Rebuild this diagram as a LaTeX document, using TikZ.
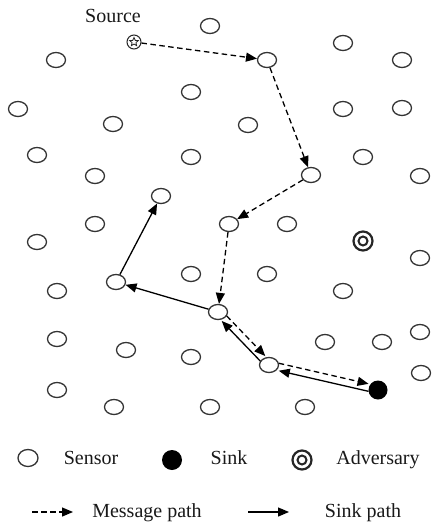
\documentclass[tikz,border=0pt]{standalone}
\usepackage{fontspec}
\setmainfont{Liberation Serif}
\usetikzlibrary{arrows.meta,shapes.geometric}
\begin{document}
\begin{tikzpicture}[x=1pt,y=-1pt,
  sensor/.style={ellipse,draw=black!80,line width=1.3pt,minimum width=19pt,minimum height=15pt,inner sep=0pt,fill=white},
  sinknode/.style={circle,fill=black,minimum size=19pt,inner sep=0pt},
  advout/.style={circle,draw=black!85,line width=2.2pt,minimum size=19pt,inner sep=0pt},
  advin/.style={circle,draw=black!85,line width=2pt,minimum size=9pt,inner sep=0pt},
  msg/.style={dash pattern=on 5.5pt off 3.5pt,line width=1.3pt,-{Triangle[length=11pt,width=9pt]}},
  snk/.style={line width=1.3pt,-{Triangle[length=11pt,width=9pt]}},
  lbl/.style={font=\fontsize{20}{24}\selectfont,text=black!90,inner sep=0pt}]
\useasboundingbox[fill=white] (0,0) rectangle (431,522);
% sensors
\foreach \p [count=\i] in {(210,26),(343,43),(56,60),(402,60),(191,92),(18,109),(113,124),(343,109),(402,108),(248,125),(37,155),(191,157),(363,157),(95,176),(420,176),(95,224),(287,224),(37,242),(420,258),(191,274),(267,274),(57,291),(343,291),(420,332),(57,339),(126,350),(191,357),(325,342),(382,342),(421,373),(57,390),(114,407),(210,407),(305,407)}
  \node[sensor] (s\i) at \p {};
% path nodes
\node[sensor] (A) at (267,60) {};
\node[sensor] (B) at (311,175) {};
\node[sensor] (C) at (229,224) {};
\node[sensor] (D) at (218,312) {};
\node[sensor] (E) at (269,365) {};
\node[sensor] (F) at (116,282) {};
\node[sensor] (G) at (161,196) {};
% source
\node[circle,draw=black!85,line width=1pt,minimum size=14pt,inner sep=0pt] (src) at (134,42) {};
\node[star,star points=5,star point ratio=2.2,draw=black!85,line width=0.8pt,minimum size=9pt,inner sep=0pt] (srcstar) at (src) {};
\node[lbl,anchor=base] (srclbl) at (113,23) {Source};
% sink and adversary
\node[sinknode] (sink) at (378,390) {};
\node[advout] (adv) at (363,241) {};
\node[advin] (advi) at (adv) {};
% message path
\draw[msg] (src) -- (A);
\draw[msg] (A) -- (B);
\draw[msg] (B) -- (C);
\draw[msg] (C) -- (D);
\draw[msg,transform canvas={xshift=2.5pt,yshift=2.5pt}] (D) -- (E);
\draw[msg,transform canvas={yshift=4pt}] (E) -- (sink);
% sink path
\draw[snk,transform canvas={yshift=-3.5pt}] (sink) -- (E);
\draw[snk,transform canvas={xshift=-2.5pt,yshift=-2.5pt}] (E) -- (D);
\draw[snk] (D) -- (F);
\draw[snk] (F) -- (G);
% legend
\node[sensor,minimum width=20pt,minimum height=17pt] (lsen) at (28,458) {};
\node[lbl,anchor=base] (tsen) at (91,464) {Sensor};
\node[sinknode,minimum size=20pt] (lsink) at (172,460) {};
\node[lbl,anchor=base] (tsink) at (229,464) {Sink};
\node[advout] (ladv) at (302,460) {};
\node[advin] (ladvi) at (ladv) {};
\node[lbl,anchor=base] (tadv) at (378,464) {Adversary};
\coordinate (m1) at (32,512);
\coordinate (m2) at (73,512);
\draw[msg] (m1) -- (m2);
\node[lbl,anchor=base] (tmsg) at (147,517) {Message path};
\coordinate (k1) at (248,512);
\coordinate (k2) at (289,512);
\draw[snk] (k1) -- (k2);
\node[lbl,anchor=base] (tsnk) at (363,517) {Sink path};
\end{tikzpicture}
\end{document}
